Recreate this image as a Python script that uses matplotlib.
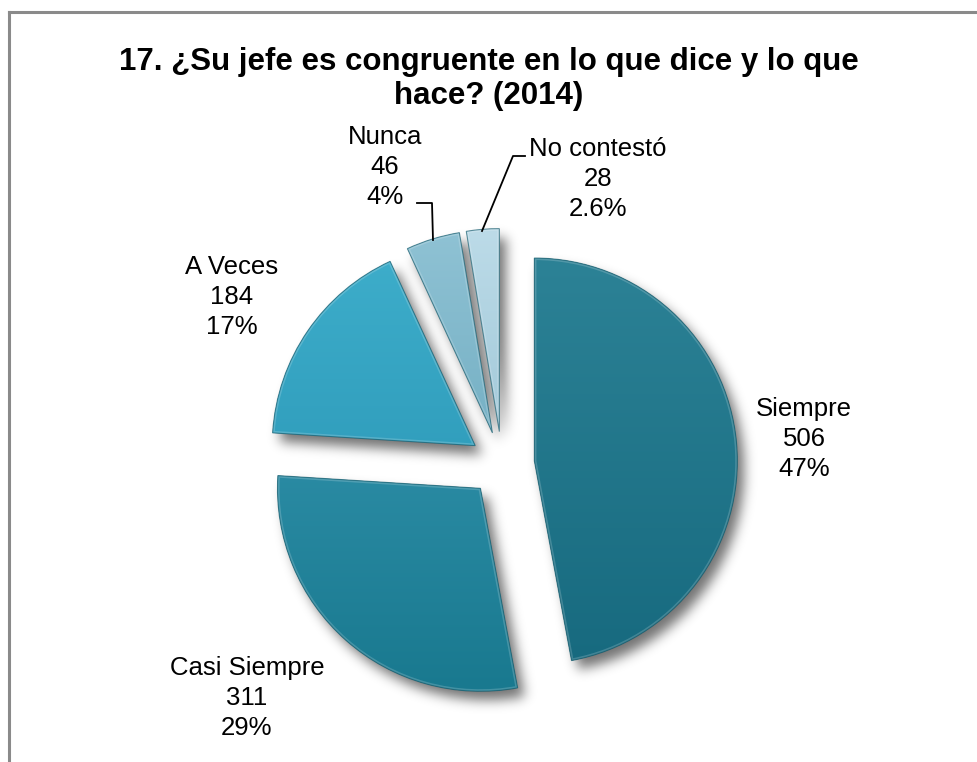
import numpy as np
import matplotlib
matplotlib.use("Agg")
import matplotlib.pyplot as plt
from matplotlib.colors import LinearSegmentedColormap
from matplotlib.patches import Wedge
from matplotlib.lines import Line2D

# ---- data ----
categories = ["Siempre", "Casi Siempre", "A Veces", "Nunca", "No contestó"]
counts = [506, 311, 184, 46, 28]
pct_labels = ["47%", "29%", "17%", "4%", "2.6%"]
title = "17. ¿Su jefe es congruente en lo que dice y lo que\nhace? (2014)"

# ---- style ----
light = ["#2c8296", "#3899b4", "#3eaecb", "#8fc2d4", "#bcdbe8"]
dark = ["#176a7f", "#19798f", "#2590b0", "#5d9fb5", "#8ab8cb"]
W, H = 977, 762
PX = 203.0                     # pixels per unit radius
CX, CY = 502, 464              # pie centre in image pixels

plt.rcParams['font.family'] = ['Liberation Sans', 'DejaVu Sans']
fig = plt.figure(figsize=(W / 100, H / 100), dpi=100)
ax = fig.add_axes([0, 0, 1, 1])
xlim = (-CX / PX, (W - CX) / PX)
ylim = (-(H - CY) / PX, CY / PX)

wedges, _ = ax.pie(counts, startangle=90, counterclock=False,
                   explode=[0.16] * len(counts), radius=1.0,
                   wedgeprops=dict(linewidth=0))

def img2fig(x, y):
    return x / W, 1 - y / H

# ---- soft shadow ----
nx, ny = W, H
xs = np.linspace(xlim[0], xlim[1], nx)
ys = np.linspace(ylim[1], ylim[0], ny)
XX, YY = np.meshgrid(xs, ys)
mask = np.zeros_like(XX)
off = (0.035, -0.045)
for w in wedges:
    cx, cy = w.center
    dx = XX - (cx + off[0])
    dy = YY - (cy + off[1])
    rr = np.hypot(dx, dy)
    ang = np.degrees(np.arctan2(dy, dx))
    span = w.theta2 - w.theta1
    inside = (rr <= w.r) & (((ang - w.theta1) % 360) <= span)
    mask[inside] = 1.0
sig = 6.0
k = np.arange(-18, 19)
kern = np.exp(-0.5 * (k / sig) ** 2)
kern /= kern.sum()
blur = np.apply_along_axis(lambda m: np.convolve(m, kern, mode='same'), 1, mask)
blur = np.apply_along_axis(lambda m: np.convolve(m, kern, mode='same'), 0, blur)
rgba = np.zeros((ny, nx, 4))
rgba[..., 3] = blur * 0.55
ax.imshow(rgba, extent=(xlim[0], xlim[1], ylim[0], ylim[1]), origin='upper',
          zorder=0.5, interpolation='bilinear')

# ---- gradient fills, bevel, edges ----
grad = np.linspace(0, 1, 256).reshape(-1, 1)
for w, c1, c2 in zip(wedges, light, dark):
    w.set_facecolor(c2)
    w.set_zorder(1)
    cx, cy = w.center
    cmap = LinearSegmentedColormap.from_list("g", [c1, c2])
    im = ax.imshow(grad, cmap=cmap, extent=(cx - 1, cx + 1, cy - 1, cy + 1),
                   origin='upper', aspect='auto', zorder=1.5)
    im.set_clip_path(w)
    hl = Wedge(w.center, w.r, w.theta1, w.theta2, facecolor='none',
               edgecolor='white', linewidth=3, alpha=0.18, zorder=1.8)
    ax.add_patch(hl)
    hl.set_clip_path(w)
    ed = Wedge(w.center, w.r, w.theta1, w.theta2, facecolor='none',
               edgecolor='#0f5566', linewidth=0.8, alpha=0.6, zorder=1.9)
    ax.add_patch(ed)

ax.set_xlim(*xlim)
ax.set_ylim(*ylim)
ax.set_aspect('equal')
ax.axis('off')

# ---- labels (layout positions in image pixels) ----
label_pos = [(804, 439), (247, 698), (232, 297), (385, 167), (598, 179)]
for name, n, p, (lx, ly) in zip(categories, counts, pct_labels, label_pos):
    fx, fy = img2fig(lx, ly)
    fig.text(fx, fy, f"{name}\n{n}\n{p}", ha='center', va='center',
             fontsize=18.5, color='black', linespacing=1.3)

# leader lines
leaders = [[(417, 203), (432, 203), (433, 240)],
           [(525, 156), (513, 156), (482, 231)]]
for pts in leaders:
    fx = [img2fig(x, y)[0] for x, y in pts]
    fy = [img2fig(x, y)[1] for x, y in pts]
    fig.add_artist(Line2D(fx, fy, color='black', linewidth=1.3,
                          transform=fig.transFigure))

# title
tx, ty = img2fig(489, 79)
fig.text(tx, ty, title, ha='center', va='center', fontsize=22.5,
         fontweight='bold', linespacing=1.15)

# frame (top and left edges visible)
fx0, fy0 = img2fig(9, 12)
fig.add_artist(Line2D([fx0, 1.0], [fy0, fy0], color='#8a8a8a', linewidth=2.2,
                      transform=fig.transFigure))
fig.add_artist(Line2D([fx0, fx0], [fy0, 0.0], color='#8a8a8a', linewidth=2.2,
                      transform=fig.transFigure))

fig.savefig("out.png", dpi=100)
